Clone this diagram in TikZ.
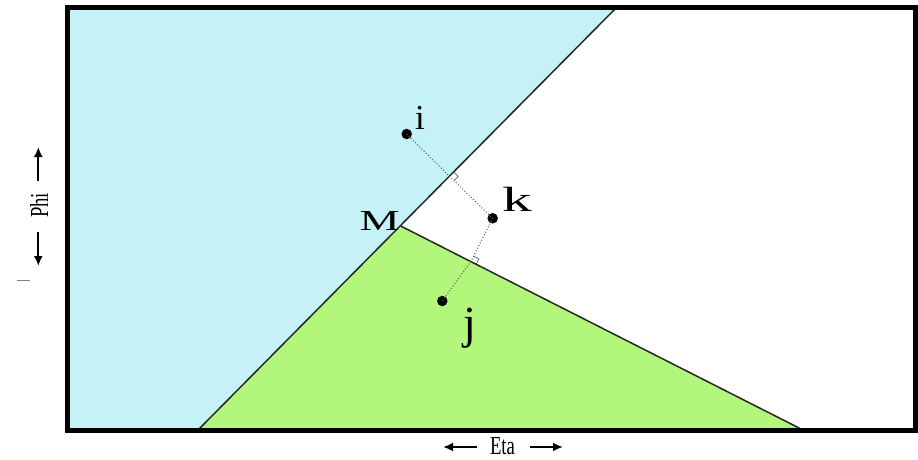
\documentclass[tikz,border=0pt]{standalone}
\usepackage{fontspec}
\setmainfont{Liberation Serif}
\usetikzlibrary{calc,arrows.meta}
\definecolor{cyanfill}{RGB}{196,242,246}
\definecolor{greenfill}{RGB}{178,246,124}
\definecolor{dotgrey}{RGB}{90,90,90}
\tikzset{
  frameline/.style={line width=5pt, line join=miter},
  edge/.style={line width=1.5pt, black!85},
  ptdot/.style={circle, fill=black, inner sep=0pt, minimum size=10.5pt},
  perp/.style={dotted, line width=1pt, dotgrey},
  rmark/.style={line width=0.7pt, dotgrey},
  axisarrow/.style={line width=2.2pt, -{Latex[length=10pt,width=9pt]}},
  lbl/.style={inner sep=0pt, anchor=base},
}
\begin{document}
\begin{tikzpicture}[x=1pt,y=-1pt]
\useasboundingbox (0,0) rectangle (918,459);
% frame corners
\coordinate (TL) at (67.5,7);
\coordinate (TR) at (915,7);
\coordinate (BR) at (915,430);
\coordinate (BL) at (67.5,430);
% partition
\coordinate (M) at (400.7,226);
\coordinate (B) at (198,430);
\coordinate (T) at (617,7);
\coordinate (R) at (803,430);
\fill[cyanfill] (TL) -- (T) -- (M) -- (B) -- (BL) -- cycle;
\fill[greenfill] (M) -- (R) -- (B) -- cycle;
\draw[edge] (B) -- (T);
\draw[edge] (M) -- (R);
% points
\node[ptdot] (i) at (406.7,134) {};
\node[ptdot] (k) at (492.7,218.3) {};
\node[ptdot] (j) at (442.3,301) {};
% feet of perpendiculars
\coordinate (fi) at ($(M)!(i.center)!(T)$);
\coordinate (fj) at ($(M)!(k.center)!(R)$);
\draw[perp] (i.center) -- (fi) -- (k.center);
\draw[perp] (k.center) -- (fj) -- (j.center);
% right-angle marks
\coordinate (fiu) at ($(fi)!6pt!(T)$);
\coordinate (fin) at ($(fi)!6pt!(k.center)$);
\draw[rmark] (fiu) -- ($(fiu)+(fin)-(fi)$) -- (fin);
\coordinate (fju) at ($(fj)!6pt!(R)$);
\coordinate (fjn) at ($(fj)!6pt!(k.center)$);
\draw[rmark] (fju) -- ($(fju)+(fjn)-(fj)$) -- (fjn);
% labels
\node[lbl, font=\fontsize{35}{35}\selectfont] (li) at (420,129) {i};
\node[lbl, font=\fontsize{35}{35}\selectfont] (lk) at (517,211) {\scalebox{1.7}[1]{k}};
\node[lbl, font=\fontsize{29}{29}\selectfont] (lM) at (379.5,230.7) {\scalebox{1.55}[1]{M}};
\node[lbl, font=\fontsize{46}{46}\selectfont] (lj) at (470,338) {j};
% frame
\draw[frameline] (TL) rectangle (BR);
% axis labels
\node[lbl, font=\fontsize{26}{26}\selectfont] (eta) at (502.5,454.5) {\scalebox{0.72}[1]{Eta}};
\coordinate (el1) at (477,447);
\coordinate (el2) at (443,447);
\coordinate (er1) at (530,447);
\coordinate (er2) at (563,447);
\draw[axisarrow] (el1) -- (el2);
\draw[axisarrow] (er1) -- (er2);
\node[lbl, rotate=90, font=\fontsize{26}{26}\selectfont] (phi) at (48,205.5) {\scalebox{0.72}[1]{Phi}};
\coordinate (pu1) at (38.3,181);
\coordinate (pu2) at (38.3,147);
\coordinate (pd1) at (38.3,232);
\coordinate (pd2) at (38.3,266);
\draw[axisarrow] (pu1) -- (pu2);
\draw[axisarrow] (pd1) -- (pd2);
\coordinate (s1) at (17,280);
\coordinate (s2) at (30,280);
\draw[line width=0.8pt, black!50] (s1) -- (s2);
\end{tikzpicture}
\end{document}
